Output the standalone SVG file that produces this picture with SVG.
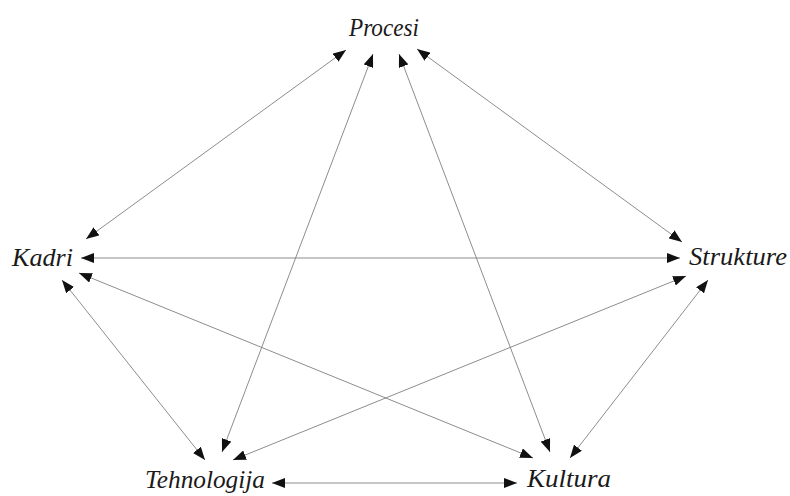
<svg xmlns="http://www.w3.org/2000/svg" width="790" height="496" viewBox="0 0 790 496">
<style>
.lbl{font-family:"Liberation Serif","DejaVu Serif",serif;font-style:italic;font-size:26px;fill:#1a1a1a}
.edge{stroke:#808080;stroke-width:0.9;fill:none;marker-start:url(#ah);marker-end:url(#ah)}
</style>
<defs>
<marker id="ah" viewBox="0 0 13 10" refX="13" refY="5" markerWidth="13" markerHeight="10" markerUnits="userSpaceOnUse" orient="auto-start-reverse">
<path d="M0,0 L13,5 L0,10 z" fill="#111"/>
</marker>
</defs>
<rect width="790" height="496" fill="#fff"/>
<g id="connectors">
<line class="edge" x1="346" y1="50" x2="86" y2="239"/>
<line class="edge" x1="373" y1="54" x2="222" y2="452"/>
<line class="edge" x1="399" y1="54" x2="550" y2="452"/>
<line class="edge" x1="417" y1="49" x2="682" y2="242"/>
<line class="edge" x1="81" y1="258" x2="680" y2="258"/>
<line class="edge" x1="79" y1="273" x2="533" y2="458"/>
<line class="edge" x1="62" y1="280" x2="205" y2="460"/>
<line class="edge" x1="686" y1="276" x2="233" y2="460"/>
<line class="edge" x1="708" y1="280" x2="570" y2="458"/>
<line class="edge" x1="272" y1="483" x2="517" y2="483"/>
</g>
<g id="procesi"><text class="lbl" x="349" y="36" textLength="70" lengthAdjust="spacingAndGlyphs">Procesi</text></g>
<g id="kadri"><text class="lbl" x="12" y="266" textLength="61" lengthAdjust="spacingAndGlyphs">Kadri</text></g>
<g id="strukture"><text class="lbl" x="689" y="265" textLength="98" lengthAdjust="spacingAndGlyphs">Strukture</text></g>
<g id="tehnologija"><text class="lbl" x="145" y="488" textLength="120" lengthAdjust="spacingAndGlyphs">Tehnologija</text></g>
<g id="kultura"><text class="lbl" x="527" y="487" textLength="84" lengthAdjust="spacingAndGlyphs">Kultura</text></g>
</svg>
